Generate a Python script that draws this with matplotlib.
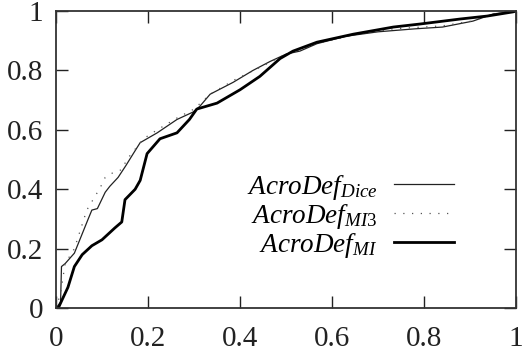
import matplotlib
matplotlib.use("Agg")
import matplotlib.pyplot as plt

plt.rcParams['font.family'] = ['Liberation Serif', 'DejaVu Serif']
plt.rcParams['mathtext.fontset'] = 'custom'
plt.rcParams['mathtext.rm'] = 'Liberation Serif'
plt.rcParams['mathtext.it'] = 'Liberation Serif:italic'

# Data
dice_x = [0, 0.01, 0.012, 0.02, 0.04, 0.057, 0.07, 0.078, 0.09, 0.107, 0.117, 0.135,
          0.152, 0.168, 0.183, 0.22, 0.263, 0.298, 0.313, 0.335, 0.385, 0.428, 0.465,
          0.50, 0.53, 0.567, 0.63, 0.70, 0.78, 0.84, 0.906, 0.95, 1.0]
dice_y = [0, 0.02, 0.14, 0.15, 0.185, 0.25, 0.30, 0.33, 0.335, 0.39, 0.41, 0.44,
          0.48, 0.52, 0.557, 0.59, 0.635, 0.66, 0.68, 0.72, 0.76, 0.80, 0.83,
          0.855, 0.865, 0.89, 0.915, 0.93, 0.94, 0.946, 0.966, 0.99, 1.0]

mi3_x = [0, 0.01, 0.02, 0.04, 0.067, 0.096, 0.107, 0.124, 0.143, 0.154, 0.19, 0.22,
         0.263, 0.30, 0.335, 0.39, 0.43, 0.50, 0.567, 0.646, 0.733, 0.84, 0.906, 0.95, 1.0]
mi3_y = [0, 0.05, 0.15, 0.20, 0.33, 0.405, 0.44, 0.456, 0.466, 0.50, 0.57, 0.60,
         0.64, 0.67, 0.72, 0.77, 0.80, 0.855, 0.89, 0.92, 0.94, 0.95, 0.967, 0.99, 1.0]

mi_x = [0, 0.005, 0.013, 0.026, 0.04, 0.057, 0.078, 0.1, 0.128, 0.143, 0.15, 0.172,
        0.183, 0.198, 0.226, 0.263, 0.29, 0.306, 0.35, 0.40, 0.443, 0.465, 0.487,
        0.515, 0.567, 0.646, 0.733, 0.79, 0.878, 0.937, 0.993, 1.0]
mi_y = [0, 0.0, 0.027, 0.07, 0.14, 0.18, 0.21, 0.23, 0.27, 0.29, 0.365, 0.40,
        0.43, 0.52, 0.57, 0.59, 0.635, 0.67, 0.69, 0.735, 0.78, 0.81, 0.84,
        0.865, 0.895, 0.922, 0.946, 0.956, 0.973, 0.983, 0.997, 1.0]

labels = [r'$AcroDef_{Dice}$', r'$AcroDef_{MI3}$', r'$AcroDef_{MI}$']
xticks = [0, 0.2, 0.4, 0.6, 0.8, 1]
yticks = [0, 0.2, 0.4, 0.6, 0.8, 1]
tick_labels = ['0', '0.2', '0.4', '0.6', '0.8', '1']

fig = plt.figure(figsize=(5.23, 3.55), dpi=100)
ax = fig.add_axes([0.107, 0.132, 0.880, 0.837])

ax.plot(dice_x, dice_y, color='#222222', lw=0.9, label=labels[0])
ax.plot(mi3_x, mi3_y, color='#555555', lw=0.9, linestyle=(0, (1, 6)), label=labels[1])
ax.plot(mi_x, mi_y, color='black', lw=2.0, label=labels[2])

ax.set_xlim(0, 1)
ax.set_ylim(0, 1)
ax.set_xticks(xticks)
ax.set_xticklabels(tick_labels)
ax.set_yticks(yticks)
ax.set_yticklabels(tick_labels)
ax.tick_params(direction='in', length=8.5, width=1, labelsize=21,
               top=True, right=True, colors='#222222')
ax.tick_params(axis='x', pad=13)
ax.tick_params(axis='y', pad=9)
for s in ax.spines.values():
    s.set_linewidth(1.3)
    s.set_color('#333333')

ax.legend(loc='center right', bbox_to_anchor=(0.905, 0.31), frameon=False,
          markerfirst=False, fontsize=19.5, handlelength=2.2, labelspacing=0.0,
          handletextpad=0.6, borderpad=0.2)

fig.savefig('out.png', dpi=100)
